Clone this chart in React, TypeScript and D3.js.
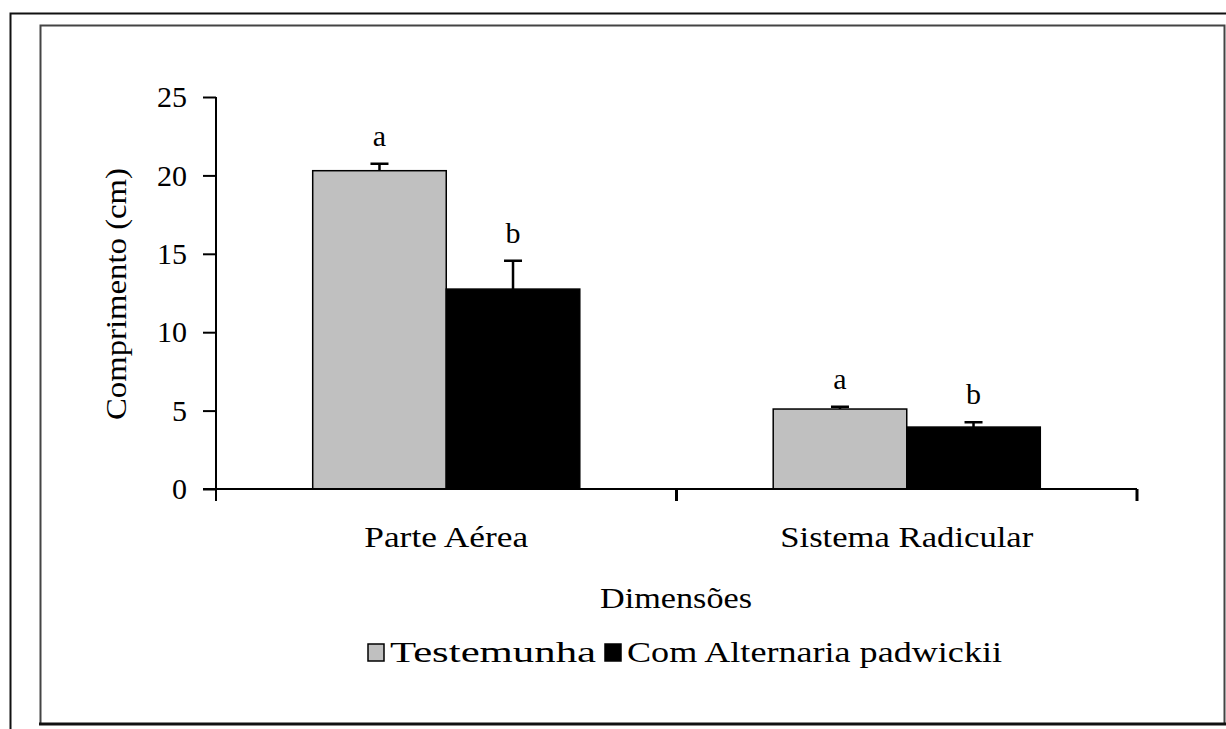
import React, { useRef, useEffect } from 'react';
import * as d3 from 'd3';

// data
const categories = ['Parte Aérea', 'Sistema Radicular'];
const seriesNames = ['Testemunha', 'Com Alternaria padwickii'];
const testemunha = [20.3, 5.1];
const testemunhaErr = [0.45, 0.15];
const comAlternaria = [12.75, 3.95];
const comAlternariaErr = [1.8, 0.3];
const letters = [
  ['a', 'b'],
  ['a', 'b'],
];
const yTicks = [0, 5, 10, 15, 20, 25];

const FONT = "'Liberation Serif', 'DejaVu Serif', serif";
const colors = ['#c0c0c0', '#000000'];

const App = () => {
  const Svg = useRef<SVGSVGElement>(null);

  useEffect(() => {
    const width = 1226;
    const height = 729;
    const left = 216;
    const right = 1137;
    const top = 97;
    const bottom = 489;
    const fs = 30;

    const svg = d3
      .select(Svg.current)
      .attr('width', width)
      .attr('height', height)
      .style('font-family', FONT);
    svg.selectAll('*').remove();

    // frames
    svg.append('rect').attr('width', width).attr('height', height).attr('fill', '#fff');
    svg
      .append('path')
      .attr('d', `M10.5,729 V13.5 H1226`)
      .attr('fill', 'none')
      .attr('stroke', '#111')
      .attr('stroke-width', 2);
    svg
      .append('path')
      .attr('d', `M40.5,724 V25.5 H1224.5 V724`)
      .attr('fill', 'none')
      .attr('stroke', '#444')
      .attr('stroke-width', 2);
    svg
      .append('line')
      .attr('x1', 39)
      .attr('x2', 1226)
      .attr('y1', 724)
      .attr('y2', 724)
      .attr('stroke', '#111')
      .attr('stroke-width', 3);

    const x0 = d3
      .scaleBand<string>()
      .domain(categories)
      .range([left, right])
      .paddingInner(0.42)
      .paddingOuter(0.21);

    const x1 = d3.scaleBand<string>().domain(seriesNames).range([0, x0.bandwidth()]);

    const y = d3.scaleLinear().domain([0, 25]).range([bottom, top]);

    const rows = categories.map((c, i) => ({
      cat: c,
      vals: [
        { s: seriesNames[0], v: testemunha[i], e: testemunhaErr[i], l: letters[i][0], c: colors[0] },
        { s: seriesNames[1], v: comAlternaria[i], e: comAlternariaErr[i], l: letters[i][1], c: colors[1] },
      ],
    }));

    // bars
    const g = svg
      .selectAll('g.cat')
      .data(rows)
      .enter()
      .append('g')
      .attr('class', 'cat')
      .attr('transform', (d) => `translate(${x0(d.cat)},0)`);

    g.selectAll('rect')
      .data((d) => d.vals)
      .enter()
      .append('rect')
      .attr('x', (d) => x1(d.s) as number)
      .attr('y', (d) => y(d.v))
      .attr('width', x1.bandwidth())
      .attr('height', (d) => bottom - y(d.v))
      .attr('fill', (d) => d.c)
      .attr('stroke', '#000')
      .attr('stroke-width', 1.5);

    // error bars
    const cap = 9;
    g.selectAll('path.err')
      .data((d) => d.vals)
      .enter()
      .append('path')
      .attr('class', 'err')
      .attr('d', (d) => {
        const cx = (x1(d.s) as number) + x1.bandwidth() / 2;
        return `M${cx},${y(d.v)} V${y(d.v + d.e)} M${cx - cap},${y(d.v + d.e)} H${cx + cap}`;
      })
      .attr('fill', 'none')
      .attr('stroke', '#000')
      .attr('stroke-width', 2.5);

    // significance letters
    g.selectAll('text.letter')
      .data((d) => d.vals)
      .enter()
      .append('text')
      .attr('class', 'letter')
      .attr('x', (d) => (x1(d.s) as number) + x1.bandwidth() / 2)
      .attr('y', (d) => y(d.v + d.e) - 18)
      .attr('text-anchor', 'middle')
      .style('font-family', FONT)
      .attr('font-size', fs)
      .text((d) => d.l);

    // y axis
    const yAxis = d3
      .axisLeft(y)
      .tickValues(yTicks)
      .tickSize(13)
      .tickPadding(16)
      .tickFormat((d) => `${d}`);
    const ya = svg.append('g').attr('transform', `translate(${left},0)`).call(yAxis);
    ya.attr('font-family', null);
    ya.select('.domain').remove();
    ya.selectAll('line').attr('stroke', '#000').attr('stroke-width', 2);
    ya.selectAll('text')
      .style('font-family', FONT)
      .attr('font-size', fs)
      .attr('fill', '#000');
    svg
      .append('line')
      .attr('x1', left)
      .attr('x2', left)
      .attr('y1', top)
      .attr('y2', bottom + 12)
      .attr('stroke', '#000')
      .attr('stroke-width', 2);

    // x axis
    svg
      .append('line')
      .attr('x1', left - 13)
      .attr('x2', right)
      .attr('y1', bottom)
      .attr('y2', bottom)
      .attr('stroke', '#000')
      .attr('stroke-width', 2);
    const xTicks = categories.map((c) => (x0(c) as number) + x0.bandwidth() + (x0.step() - x0.bandwidth()) / 2);
    svg
      .selectAll('line.xt')
      .data(xTicks)
      .enter()
      .append('line')
      .attr('class', 'xt')
      .attr('x1', (d) => Math.min(d, right))
      .attr('x2', (d) => Math.min(d, right))
      .attr('y1', bottom)
      .attr('y2', bottom + 12)
      .attr('stroke', '#000')
      .attr('stroke-width', 3);

    const catWidths = [164, 253];
    svg
      .selectAll('text.cat')
      .data(categories)
      .enter()
      .append('text')
      .attr('class', 'cat')
      .attr('x', (d) => (x0(d) as number) + x0.bandwidth() / 2)
      .attr('y', 547)
      .attr('text-anchor', 'middle')
      .style('font-family', FONT)
      .attr('font-size', fs)
      .attr('textLength', (d, i) => catWidths[i])
      .attr('lengthAdjust', 'spacingAndGlyphs')
      .text((d) => d);

    // axis titles
    svg
      .append('text')
      .attr('x', 676)
      .attr('y', 608)
      .attr('text-anchor', 'middle')
      .style('font-family', FONT)
      .attr('font-size', fs)
      .attr('textLength', 152)
      .attr('lengthAdjust', 'spacingAndGlyphs')
      .text('Dimensões');

    svg
      .append('text')
      .attr('transform', `translate(126,294) rotate(-90)`)
      .attr('text-anchor', 'middle')
      .style('font-family', FONT)
      .attr('font-size', fs)
      .attr('textLength', 252)
      .attr('lengthAdjust', 'spacingAndGlyphs')
      .text('Comprimento (cm)');

    // legend
    const legendItems = [
      { name: seriesNames[0], c: colors[0], x: 368, w: 206 },
      { name: seriesNames[1], c: colors[1], x: 605, w: 375 },
    ];
    const lg = svg
      .selectAll('g.legend')
      .data(legendItems)
      .enter()
      .append('g')
      .attr('class', 'legend')
      .attr('transform', (d) => `translate(${d.x},0)`);
    lg.append('rect')
      .attr('x', 0)
      .attr('y', 644)
      .attr('width', 16)
      .attr('height', 17)
      .attr('fill', (d) => d.c)
      .attr('stroke', '#000')
      .attr('stroke-width', 1.5);
    lg.append('text')
      .attr('x', 22)
      .attr('y', 662)
      .style('font-family', FONT)
      .attr('font-size', fs)
      .attr('textLength', (d) => d.w)
      .attr('lengthAdjust', 'spacingAndGlyphs')
      .text((d) => d.name);
  }, []);

  return (
    <div style={{ position: 'absolute', left: 0, top: 0 }}>
      <svg ref={Svg} style={{ display: 'block' }} />
    </div>
  );
};

export default App;
